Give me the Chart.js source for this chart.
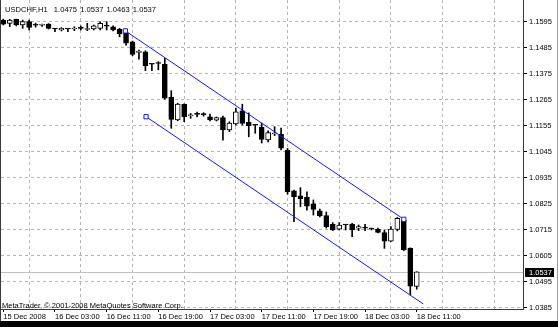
<!DOCTYPE html>
<html><head><meta charset="utf-8">
<script src="https://cdn.jsdelivr.net/npm/chart.js@4/dist/chart.umd.min.js"></script>
<style>html,body{margin:0;padding:0;background:#fff;}canvas{display:block;}</style>
</head><body>
<canvas id="c" width="558" height="327"></canvas>
<script>
// ---- data ----
const titleText = 'USDCHF,H1  1.0475 1.0537 1.0463 1.0537';
const copyrightText = 'MetaTrader, \u00A9 2001-2008 MetaQuotes Software Corp.';
const timeLabels = ['15 Dec 2008','16 Dec 03:00','16 Dec 11:00','16 Dec 19:00','17 Dec 03:00','17 Dec 11:00','17 Dec 19:00','18 Dec 03:00','18 Dec 11:00'];
const timeLabelBars = [0,8,16,24,32,40,48,56,64];
const timeGridBars = [4,12,20,28,36,44,52,60,68,76];
const priceTicks = [1.0385,1.0495,1.0605,1.0715,1.0825,1.0935,1.1045,1.1155,1.1265,1.1375,1.1485,1.1595];
const lastPrice = 1.0537;

const opens = [1.1602,1.1588,1.1605,1.1581,1.1595,1.1581,1.1580,1.1585,1.1565,1.1560,
1.1565,1.1564,1.1567,1.1562,1.1564,1.1567,1.1577,1.1573,1.1563,1.1548,
1.1510,1.1465,1.1468,1.1416,1.1419,1.1415,1.1275,1.1179,1.1246,1.1197,
1.1203,1.1203,1.1193,1.1178,1.1189,1.1137,1.1162,1.1218,1.1169,1.1158,
1.1148,1.1095,1.1120,1.1119,1.1052,1.0879,1.0858,1.0852,1.0824,1.0795,
1.0775,1.0738,1.0717,1.0735,1.0738,1.0721,1.0721,1.0718,1.0717,1.0703,
1.0667,1.0716,1.0756,1.0637,1.0475];
const highs = [1.1606,1.1605,1.1606,1.1602,1.1602,1.1589,1.1585,1.1587,1.1567,1.1570,
1.1565,1.1574,1.1577,1.1588,1.1581,1.1595,1.1595,1.1577,1.1567,1.1557,
1.1513,1.1475,1.1472,1.1417,1.1426,1.1440,1.1303,1.1250,1.1247,1.1207,
1.1213,1.1210,1.1204,1.1192,1.1196,1.1172,1.1230,1.1246,1.1209,1.1159,
1.1166,1.1133,1.1151,1.1145,1.1059,1.0883,1.0893,1.0875,1.0841,1.0802,
1.0790,1.0745,1.0745,1.0737,1.0742,1.0735,1.0738,1.0722,1.0722,1.0714,
1.0728,1.0767,1.0763,1.0638,1.0537];
const lows = [1.1581,1.1574,1.1577,1.1567,1.1560,1.1572,1.1575,1.1564,1.1553,1.1556,
1.1553,1.1557,1.1560,1.1557,1.1560,1.1560,1.1560,1.1556,1.1531,1.1496,
1.1451,1.1436,1.1388,1.1388,1.1391,1.1267,1.1144,1.1176,1.1172,1.1186,
1.1192,1.1195,1.1175,1.1175,1.1094,1.1130,1.1158,1.1158,1.1108,1.1123,
1.1082,1.1086,1.1113,1.1052,1.0865,1.0749,1.0812,1.0798,1.0777,1.0769,
1.0722,1.0711,1.0714,1.0714,1.0685,1.0711,1.0711,1.0714,1.0701,1.0636,
1.0664,1.0710,1.0627,1.0439,1.0463];
const closes = [1.1585,1.1602,1.1582,1.1595,1.1571,1.1580,1.1581,1.1567,1.1564,1.1567,
1.1564,1.1565,1.1567,1.1563,1.1578,1.1588,1.1576,1.1560,1.1543,1.1504,
1.1457,1.1467,1.1409,1.1415,1.1418,1.1271,1.1182,1.1246,1.1193,1.1198,
1.1203,1.1202,1.1179,1.1189,1.1137,1.1166,1.1214,1.1165,1.1155,1.1157,
1.1097,1.1126,1.1121,1.1060,1.0876,1.0855,1.0846,1.0815,1.0801,1.0773,
1.0728,1.0714,1.0735,1.0735,1.0714,1.0728,1.0721,1.0718,1.0703,1.0667,
1.0718,1.0763,1.0629,1.0476,1.0537];

const channelUpperBars = [18.9, 62.0];
const channelUpperPrices = [1.1556, 1.0759];
const channelLowerBars = [22.1, 65.0];
const channelLowerPrices = [1.1193, 1.0401];

// ---- build ----
const wickData = highs.map((h, i) => ({x: i, y: [lows[i], h]}));
const bodyData = opens.map((o, i) => ({x: i, y: [o, closes[i]]}));
const bodyFill = opens.map((o, i) => closes[i] > o ? '#ffffff' : '#000000');
const upperData = channelUpperBars.map((b, i) => ({x: b, y: channelUpperPrices[i]}));
const lowerData = channelLowerBars.map((b, i) => ({x: b, y: channelLowerPrices[i]}));

const FONT = '"Liberation Sans", Arial, sans-serif';
const GRID = '#b4b4b4';
const BLUE = 'rgb(20,20,255)';

const decor = {
  id: 'decor',
  beforeDatasetsDraw(chart) {
    const {ctx, chartArea: a, scales: {y}} = chart;
    const py = Math.round(y.getPixelForValue(lastPrice)) + 0.5;
    ctx.save();
    ctx.strokeStyle = '#c0c0c0'; ctx.lineWidth = 1;
    ctx.beginPath(); ctx.moveTo(a.left, py); ctx.lineTo(a.right, py); ctx.stroke();
    ctx.restore();
  },
  afterDraw(chart) {
    const {ctx, chartArea: a, scales: {y}, width, height} = chart;
    ctx.save();
    ctx.fillStyle = '#000';
    ctx.textAlign = 'left';
    ctx.textBaseline = 'alphabetic';
    ctx.font = '7.6px ' + FONT;
    try { ctx.wordSpacing = '1px'; } catch (e) {}
    ctx.fillText(titleText, 5, 11.5);
    try { ctx.wordSpacing = '0px'; } catch (e) {}
    ctx.font = '7.5px ' + FONT;
    ctx.fillText(copyrightText, 2, 307.5);
    const py = Math.round(y.getPixelForValue(lastPrice));
    ctx.fillStyle = '#000';
    ctx.fillRect(a.right + 2, py - 4, 29, 9);
    ctx.fillStyle = '#fff';
    ctx.textBaseline = 'middle';
    ctx.fillText(lastPrice.toFixed(4), a.right + 6, py + 0.5);
    ctx.fillStyle = '#000';
    ctx.fillRect(0, 321, width, height - 321);
    ctx.fillStyle = '#3a3a3a';
    ctx.fillRect(0, 0, 1, 321);
    ctx.fillStyle = '#9a9a9a';
    ctx.fillRect(width - 1, 0, 1, 321);
    ctx.restore();
  }
};

new Chart(document.getElementById('c'), {
  type: 'bar',
  data: {
    datasets: [
      {type: 'line', data: upperData, order: 1, borderColor: BLUE, borderWidth: 1, tension: 0,
       pointStyle: 'rect', pointRadius: [3, 3], pointBorderColor: BLUE, pointBackgroundColor: '#ffffff',
       pointBorderWidth: 1, fill: false, xAxisID: 'x', yAxisID: 'y'},
      {type: 'line', data: lowerData, order: 1, borderColor: BLUE, borderWidth: 1, tension: 0,
       pointStyle: 'rect', pointRadius: [3, 0], pointBorderColor: BLUE, pointBackgroundColor: '#ffffff',
       pointBorderWidth: 1, fill: false, xAxisID: 'x', yAxisID: 'y'},
      {type: 'bar', data: bodyData, order: 2, grouped: false, barThickness: 5, minBarLength: 1,
       backgroundColor: bodyFill, borderColor: '#000', borderWidth: 1, borderSkipped: false,
       xAxisID: 'x', yAxisID: 'y'},
      {type: 'bar', data: wickData, order: 3, grouped: false, barThickness: 1,
       backgroundColor: '#000', borderWidth: 0, xAxisID: 'x', yAxisID: 'y'}
    ]
  },
  options: {
    responsive: false,
    animation: false,
    devicePixelRatio: 1,
    events: [],
    layout: {autoPadding: false, padding: {left: 1, right: 0, top: 0, bottom: 6}},
    plugins: {legend: {display: false}, tooltip: {enabled: false}, title: {display: false}},
    scales: {
      x: {
        type: 'linear', position: 'bottom', min: -0.356, max: 80.45, offset: false,
        afterBuildTicks: s => { s.ticks = timeLabelBars.map(v => ({value: v})); },
        afterFit: s => { s.height = 12; s.paddingLeft = 0; s.paddingRight = 0; },
        ticks: {autoSkip: false, maxRotation: 0, minRotation: 0, align: 'start', padding: 0,
          color: '#000', font: {family: FONT, size: 7.5},
          callback: v => timeLabels[timeLabelBars.indexOf(v)] ?? ''},
        grid: {offset: false, drawOnChartArea: false, drawTicks: true, tickLength: 3, tickColor: '#000', color: '#000'},
        border: {display: true, color: '#3a3a3a', width: 1}
      },
      x2: {
        type: 'linear', position: 'bottom', min: -0.356, max: 80.45, offset: false,
        afterBuildTicks: s => { s.ticks = timeGridBars.map(v => ({value: v})); },
        afterFit: s => { s.height = 0; s.paddingLeft = 0; s.paddingRight = 0; },
        ticks: {display: false},
        grid: {offset: false, drawOnChartArea: true, drawTicks: false, color: GRID, lineWidth: 1},
        border: {display: false, dash: [3, 3]}
      },
      y: {
        type: 'linear', position: 'right', min: 1.03795, max: 1.16868, beginAtZero: false,
        afterBuildTicks: s => { s.ticks = priceTicks.map(v => ({value: v})); },
        afterFit: s => { s.width = 35; s.paddingTop = 0; s.paddingBottom = 0; },
        ticks: {padding: 2, color: '#000', font: {family: FONT, size: 7.5},
          callback: v => Number(v).toFixed(4)},
        grid: {drawOnChartArea: true, drawTicks: true, tickLength: 4, tickColor: '#000', color: GRID, lineWidth: 1},
        border: {display: true, color: '#3a3a3a', width: 1, dash: [3, 3]}
      }
    }
  },
  plugins: [decor]
});
</script>
</body></html>
